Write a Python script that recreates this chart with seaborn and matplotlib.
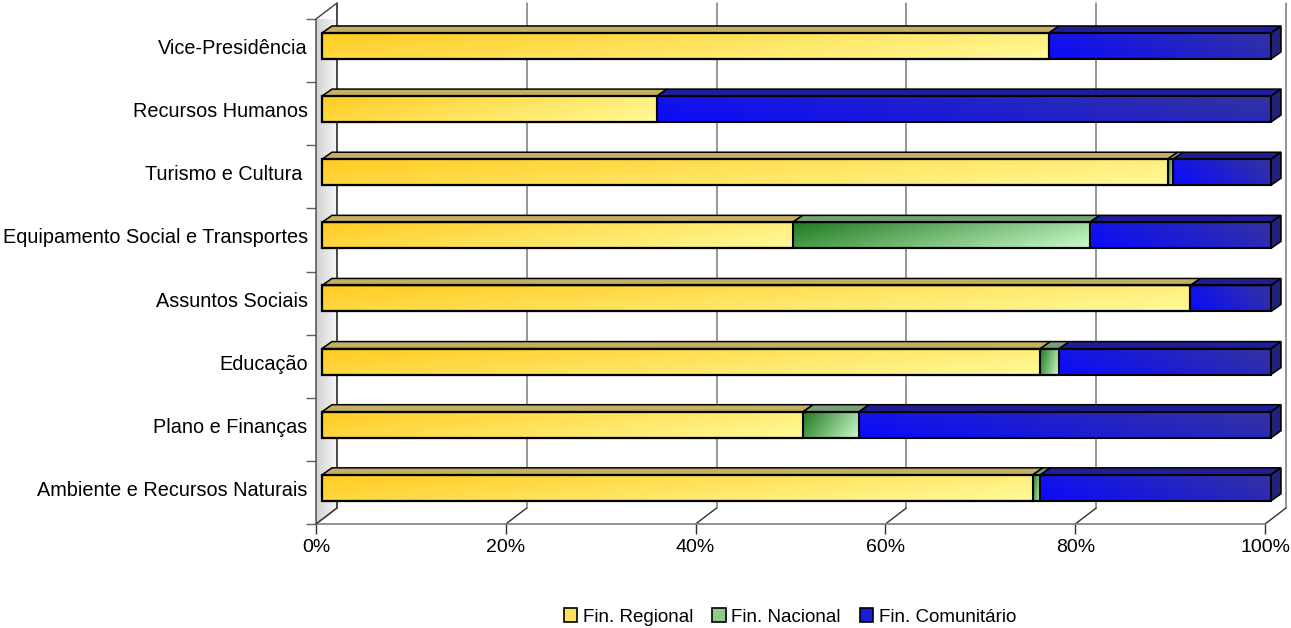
import numpy as np
import pandas as pd
import matplotlib
matplotlib.use("Agg")
import matplotlib.pyplot as plt
import matplotlib.transforms as mtransforms
from matplotlib.patches import Polygon, Patch
from matplotlib.colors import to_rgb
import seaborn as sns

# ---- data -------------------------------------------------------------
categories = [
    "Vice-Presidência",
    "Recursos Humanos",
    "Turismo e Cultura ",
    "Equipamento Social e Transportes",
    "Assuntos Sociais",
    "Educação",
    "Plano e Finanças",
    "Ambiente e Recursos Naturais",
]
fin_regional = [76.6, 35.3, 89.1, 49.6, 91.5, 75.7, 50.7, 74.9]
fin_nacional = [0.0, 0.0, 0.6, 31.3, 0.0, 2.0, 5.9, 0.8]
fin_comunitario = [23.4, 64.7, 10.3, 19.1, 8.5, 22.3, 43.4, 24.3]
series_names = ["Fin. Regional", "Fin. Nacional", "Fin. Comunitário"]
x_ticks = [0, 20, 40, 60, 80, 100]
x_tick_labels = ["0%", "20%", "40%", "60%", "80%", "100%"]

# ---- styling ----------------------------------------------------------
sns.set_theme(style="white")
plt.rcParams["font.family"] = ["Liberation Sans", "DejaVu Sans"]
FS_Y = 14.3
FS_X = 14.0
FS_LEG = 13.5

# gradient ends (start, end), top face colour, for each series
grad_colors = [("#FFCC22", "#FFFA9A"), ("#1F7A1F", "#CCFACC"), ("#0A0AFF", "#34349E")]
top_colors = ["#C4B062", "#76A076", "#1E1E96"]
side_color = "#22227A"
legend_colors = ["#FFE15A", "#8FCB8F", "#1C1CD8"]

W, H = 1291, 628
fig = plt.figure(figsize=(W / 100, H / 100), dpi=100)
ax_l, ax_r, ax_t, ax_b = 316, 1265, 19, 524
ax = fig.add_axes([ax_l / W, (H - ax_b) / H, (ax_r - ax_l) / W, (ax_b - ax_t) / H])

n = len(categories)
PXX = 100.0 / (ax_r - ax_l)       # data units per pixel along x
PXY = n / (ax_b - ax_t)           # category units per pixel along y

WALL_DX, WALL_DY = 21 * PXX, -16 * PXY    # depth of the 3-D box
BAR_DX, BAR_DY = 10 * PXX, -7 * PXY       # depth of each bar
BAR_H = 26 * PXY                          # front-face height

trans_bar = mtransforms.offset_copy(ax.transData, fig=fig, x=6, y=4.6, units="dots")

# percentage shares
shares = np.array([fin_regional, fin_nacional, fin_comunitario], float)
shares = shares / shares.sum(axis=0) * 100
cum = np.cumsum(shares, axis=0)

df = pd.DataFrame({
    "Departamento": categories,
    "Regional": cum[0],
    "Regional+Nacional": cum[1],
    "Total": cum[2],
})

# front-face outlines (stacked by overdrawing cumulative totals)
for col in ["Total", "Regional+Nacional", "Regional"]:
    n_before = len(ax.patches)
    sns.barplot(data=df, x=col, y="Departamento", orient="h", width=BAR_H,
                color="white", errorbar=None, ax=ax)
    for p in ax.patches[n_before:]:
        p.set_facecolor("none")
        p.set_edgecolor("black")
        p.set_linewidth(1.5)
        p.set_transform(trans_bar)
        p.set_zorder(6)
        p.set_clip_on(False)


def gradient_rect(x0, x1, y_top, y_bot, c0, c1, mode, transform, zorder):
    nx, ny = 160, 24
    u = np.linspace(0, 1, nx)[None, :]
    v = np.linspace(0, 1, ny)[:, None]
    if mode == "down":
        t = 0.75 * u + 0.25 * v
    elif mode == "up":
        t = 0.75 * u + 0.25 * (1 - v)
    else:
        t = u + 0 * v
    a, b = np.array(to_rgb(c0)), np.array(to_rgb(c1))
    img = a + (b - a) * t[..., None]
    im = ax.imshow(img, extent=(x0, x1, y_bot, y_top), origin="upper",
                   aspect="auto", interpolation="bilinear", zorder=zorder)
    im.set_transform(transform)
    im.set_clip_on(False)
    return im


modes = ["down", "down", "up"]
for i in range(n):
    y_top = i - BAR_H / 2
    y_bot = i + BAR_H / 2
    starts = [0.0, cum[0][i], cum[1][i]]
    ends = [cum[0][i], cum[1][i], cum[2][i]]
    for s in range(3):
        x0, x1 = starts[s], ends[s]
        if x1 - x0 <= 1e-9:
            continue
        gradient_rect(x0, x1, y_top, y_bot, grad_colors[s][0], grad_colors[s][1],
                      modes[s], trans_bar, 4)
        top = Polygon([(x0, y_top), (x1, y_top), (x1 + BAR_DX, y_top + BAR_DY),
                       (x0 + BAR_DX, y_top + BAR_DY)], closed=True,
                      facecolor=top_colors[s], edgecolor="black", linewidth=1.1,
                      transform=trans_bar, zorder=5, clip_on=False)
        ax.add_patch(top)
    xe = cum[2][i]
    side = Polygon([(xe, y_top), (xe + BAR_DX, y_top + BAR_DY),
                    (xe + BAR_DX, y_bot + BAR_DY), (xe, y_bot)], closed=True,
                   facecolor=side_color, edgecolor="black", linewidth=1.1,
                   transform=trans_bar, zorder=5, clip_on=False)
    ax.add_patch(side)

# ---- 3-D box: left wall, back-wall gridlines, floor ----------------------
y0, y1 = -0.5, n - 0.5
wall = Polygon([(0, y0), (WALL_DX, y0 + WALL_DY), (WALL_DX, y1 + WALL_DY), (0, y1)],
               closed=True, facecolor="none", edgecolor="#404040", linewidth=1.0,
               zorder=2, clip_on=False)
ax.add_patch(wall)
gv = np.linspace(0, 1, 64)[None, :]
wall_img = np.array(to_rgb("#D2D2D2")) + (np.array(to_rgb("#F6F6F6")) - np.array(to_rgb("#D2D2D2"))) * gv[..., None]
wall_img = np.repeat(wall_img, 4, axis=0)
im = ax.imshow(wall_img, extent=(0, WALL_DX, y1, y0 + WALL_DY), origin="upper",
               aspect="auto", interpolation="bilinear", zorder=1)
im.set_clip_path(wall)
im.set_clip_on(True)

grid_color = "#7A7A7A"
for xt in x_ticks:
    ax.plot([xt + WALL_DX, xt + WALL_DX], [y0 + WALL_DY, y1 + WALL_DY],
            color=grid_color if xt else "#404040", linewidth=1.1, zorder=1.5, clip_on=False)
    ax.plot([xt, xt + WALL_DX], [y1, y1 + WALL_DY], color="#303030",
            linewidth=1.0, zorder=1.5, clip_on=False)
ax.plot([0, 100], [y1, y1], color="#808080", linewidth=1.2, zorder=1.5, clip_on=False)

# ---- axes, ticks, labels ----------------------------------------------
ax.set_xlim(0, 100)
ax.set_ylim(y1, y0)
for sp in ax.spines.values():
    sp.set_visible(False)
ax.set_xlabel("")
ax.set_ylabel("")
ax.set_xticks(x_ticks)
ax.set_xticklabels(x_tick_labels, fontsize=FS_X, color="black")
ax.set_yticks(range(n))
ax.set_yticklabels(categories, fontsize=FS_Y, color="black", va="center")
ax.set_yticks(np.arange(y0, y1 + 0.5, 1), minor=True)
ax.tick_params(axis="x", which="major", direction="out", length=7.2, width=1.0,
               color="#303030", pad=3.5, bottom=True)
ax.tick_params(axis="y", which="major", length=0, pad=6, left=True)
ax.tick_params(axis="y", which="minor", direction="out", length=7.2, width=1.0,
               color="#606060", left=True)
ax.grid(False)
ax.set_facecolor("none")
for lab in ax.get_yticklabels():
    lab.set_transform(lab.get_transform() + mtransforms.ScaledTranslation(0, 2 / 100, fig.dpi_scale_trans))

# ---- legend -------------------------------------------------------------
handles = [Patch(facecolor=c, edgecolor="black", linewidth=1.2) for c in legend_colors]
fig.legend(handles, series_names, loc="center", bbox_to_anchor=(790 / W, 1 - 617 / H),
           ncol=3, frameon=False, fontsize=FS_LEG, labelcolor="black",
           handlelength=0.72, handleheight=0.72,
           handletextpad=0.3, columnspacing=1.0, borderaxespad=0)

fig.savefig("out.png", dpi=100)
